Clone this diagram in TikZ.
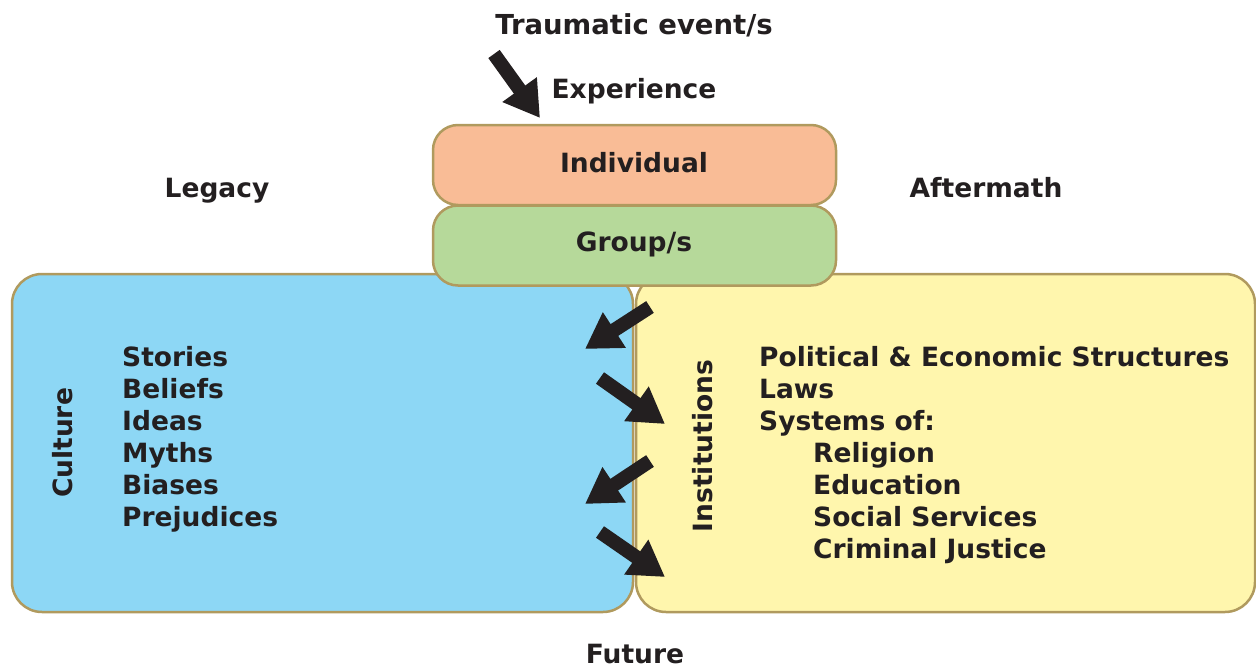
\documentclass[tikz,border=0pt]{standalone}
\usepackage{fontspec}
\setmainfont{DejaVu Sans}
\usetikzlibrary{arrows.meta}
\definecolor{edgetan}{HTML}{B09A5E}
\definecolor{indivfill}{HTML}{F9BC96}
\definecolor{groupfill}{HTML}{B6D99A}
\definecolor{culturefill}{HTML}{8DD7F5}
\definecolor{instfill}{HTML}{FFF6AD}
\definecolor{ink}{HTML}{231F20}
\tikzset{
  x=1pt, y=-1pt,
  lbl/.style={font=\fontsize{26.5}{32}\selectfont\bfseries, text=ink, inner sep=0pt, anchor=base},
  vlbl/.style={font=\fontsize{26.5}{32}\selectfont\bfseries, text=ink, inner sep=0pt, rotate=90},
  listtxt/.style={font=\fontsize{26.5}{32}\selectfont\bfseries, text=ink, inner sep=0pt, align=left, anchor=north west},
  pill/.style={draw=edgetan, line width=2.5pt, rounded corners=25pt, minimum width=403pt, minimum height=80pt, inner sep=0pt},
  bigbox/.style={draw=edgetan, line width=2.5pt, rounded corners=30pt, minimum width=621pt, minimum height=338pt, inner sep=0pt},
  blockarrow/.style={draw=ink, line width=14pt, -{Triangle[length=35pt,width=40pt]}}
}
\begin{document}
\begin{tikzpicture}
\useasboundingbox (0,0) rectangle (1256,667);
\node[bigbox, fill=culturefill] (culture) at (322.5,443) {};
\node[bigbox, fill=instfill, minimum width=619pt] (inst) at (945.5,443) {};
\node[pill, fill=indivfill] (indiv) at (634.5,165) {};
\node[pill, fill=groupfill] (group) at (634.5,245.5) {};
\node[lbl] (indivt) at (634,172) {Individual};
\node[lbl] (groupt) at (634,251) {Group/s};
\node[lbl, font=\fontsize{27.5}{32}\selectfont\bfseries] (trauma) at (634,34) {Traumatic event/s};
\node[lbl] (exper) at (634,98) {Experience};
\node[lbl] (legacy) at (217,197) {Legacy};
\node[lbl] (after) at (986,197) {Aftermath};
\node[lbl] (future) at (635,663) {Future};
\node[vlbl] (culturet) at (63,443) {Culture};
\node[vlbl] (instt) at (703,446) {Institutions};
\node[listtxt] (clist) at (122,346.5) {Stories\\Beliefs\\Ideas\\Myths\\Biases\\Prejudices};
\node[listtxt] (ilist) at (759,346.5) {Political \& Economic Structures\\Laws\\Systems of:\\\hspace*{54pt}Religion\\\hspace*{54pt}Education\\\hspace*{54pt}Social Services\\\hspace*{54pt}Criminal Justice};
\coordinate (t0) at (494,54);
\coordinate (t1) at (540,118);
\coordinate (a1s) at (650,307);
\coordinate (a1e) at (585,349);
\coordinate (a2s) at (600,378);
\coordinate (a2e) at (665,424);
\coordinate (a3s) at (650,461);
\coordinate (a3e) at (585,504);
\coordinate (a4s) at (600,532);
\coordinate (a4e) at (665,577);
\draw[blockarrow] (t0) -- (t1);
\draw[blockarrow] (a1s) -- (a1e);
\draw[blockarrow] (a2s) -- (a2e);
\draw[blockarrow] (a3s) -- (a3e);
\draw[blockarrow] (a4s) -- (a4e);
\end{tikzpicture}
\end{document}
